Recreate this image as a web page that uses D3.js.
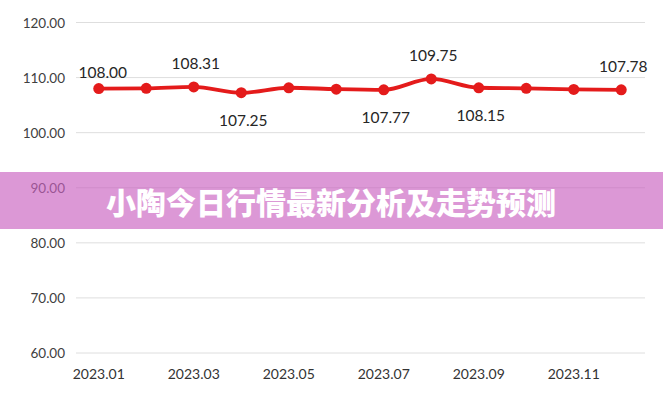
<!DOCTYPE html>
<html>
<head>
<meta charset="utf-8">
<script src="https://cdn.jsdelivr.net/npm/d3@7"></script>
<style>
  html, body { margin: 0; padding: 0; background: #fff; }
  svg { display: block; }
</style>
</head>
<body>
<svg id="chart" width="663" height="400"></svg>
<script>
const months = ["2023.01","2023.02","2023.03","2023.04","2023.05","2023.06","2023.07","2023.08","2023.09","2023.10","2023.11","2023.12"];
const values = [108.00, 108.05, 108.31, 107.25, 108.15, 107.90, 107.77, 109.75, 108.15, 108.05, 107.85, 107.78];
const labelSide = ["above", null, "above", "below", null, null, "below", "above", "below", null, null, "above"];
const yTicks = [60, 70, 80, 90, 100, 110, 120];
const xTickLabels = ["2023.01","2023.03","2023.05","2023.07","2023.09","2023.11"];
const title = "小陶今日行情最新分析及走势预测";

const svg = d3.select("#chart");
const x = d3.scaleBand().domain(months).range([75, 645]);
const y = d3.scaleLinear().domain([60, 120]).range([353, 22.5]);
const cx = d => x(d) + x.bandwidth() / 2;

// gridlines
svg.append("g").selectAll("line").data(yTicks).join("line")
  .attr("x1", 76).attr("x2", 645)
  .attr("y1", d => y(d)).attr("y2", d => y(d))
  .attr("stroke", "#dedede").attr("stroke-width", 1);

// y labels
svg.append("g").selectAll("text").data(yTicks).join("text")
  .attr("x", 65).attr("y", d => y(d))
  .attr("text-anchor", "end").attr("dominant-baseline", "central")
  .attr("font-family", "Lato, 'Liberation Sans', sans-serif")
  .attr("font-size", 13.5).attr("fill", "#404040")
  .text(d => d.toFixed(2));

// x labels
svg.append("g").selectAll("text").data(xTickLabels).join("text")
  .attr("x", d => cx(d)).attr("y", 373)
  .attr("text-anchor", "middle").attr("dominant-baseline", "central")
  .attr("font-family", "Lato, 'Liberation Sans', sans-serif")
  .attr("font-size", 14).attr("fill", "#333333")
  .text(d => d);

const pts = months.map((m, i) => ({ m, v: values[i], side: labelSide[i], i }));

// line
const line = d3.line().x(d => cx(d.m)).y(d => y(d.v)).curve(d3.curveMonotoneX);
svg.append("path").datum(pts)
  .attr("d", line).attr("fill", "none")
  .attr("stroke", "#e41b1b").attr("stroke-width", 3.8)
  .attr("stroke-linejoin", "round");

// points
svg.append("g").selectAll("circle").data(pts).join("circle")
  .attr("cx", d => cx(d.m)).attr("cy", d => y(d.v)).attr("r", 5.5)
  .attr("fill", "#e41b1b");

// labels
svg.append("g").selectAll("text").data(pts.filter(d => d.side)).join("text")
  .attr("x", d => cx(d.m) + (d.i === 0 ? 4 : 2))
  .attr("y", d => y(d.v) + (d.side === "above" ? (d.i === 0 ? -17 : -24) : 27))
  .attr("text-anchor", "middle").attr("dominant-baseline", "central")
  .attr("font-family", "Lato, 'Liberation Sans', sans-serif")
  .attr("font-size", 15.5).attr("fill", "#262626")
  .text(d => d.v.toFixed(2));

// banner
svg.append("rect")
  .attr("x", 0).attr("y", 172).attr("width", 663).attr("height", 57)
  .attr("fill", "#ca61c0").attr("opacity", 0.65);

svg.append("text")
  .attr("x", 331).attr("y", 201)
  .attr("text-anchor", "middle").attr("dominant-baseline", "central")
  .attr("font-family", "'Noto Sans CJK SC', sans-serif")
  .attr("font-weight", 900)
  .attr("font-size", 30).attr("fill", "#ffffff")
  .text(title);
</script>
</body>
</html>
